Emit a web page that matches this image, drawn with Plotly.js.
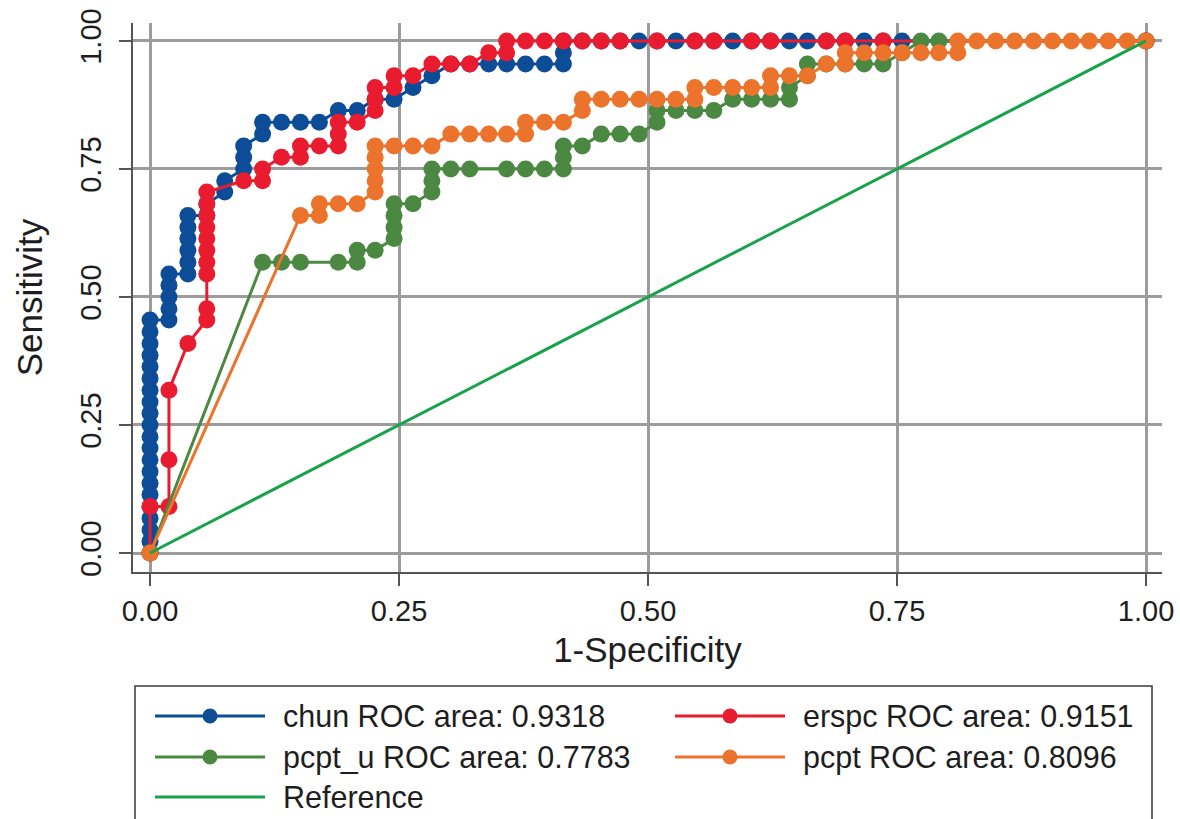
<!DOCTYPE html>
<html>
<head>
<meta charset="utf-8">
<script src="https://cdn.plot.ly/plotly-3.0.1.min.js"></script>
<style>html,body{margin:0;padding:0;background:#fff;}#chart{width:1180px;height:819px;}</style>
</head>
<body>
<div id="chart"></div>
<script>
// ---- data ----
const seriesNames = ["chun ROC area: 0.9318", "erspc ROC area: 0.9151", "pcpt_u ROC area: 0.7783", "pcpt ROC area: 0.8096", "Reference"];

const chunX = [0,0,0,0,0,0,0,0,0,0,0,0,0,0,0,0,0,0,0,0,0,
  .019,.019,.019,.019,.019,
  .038,.038,.038,.038,.038,.038,
  .057,.057, .075,.075, .094,.094,.094, .113,.113,
  .132,.151,.170, .189,.208, .226,.245, .264, .283,
  .302,.321,.340,.358,.377,.396,.415, .415,.415,
  .434,.453,.472,.491,.509,.528,.547,.566,.585,.604,.623,.642,.660,.679,.698,.717,.736,.755, 1];
const chunY = [0,.023,.045,.068,.091,.114,.136,.159,.182,.205,.227,.250,.273,.295,.318,.341,.364,.386,.409,.432,.455,
  .455,.477,.500,.523,.545,
  .545,.568,.591,.614,.636,.659,
  .659,.682, .705,.727, .750,.773,.795, .818,.841,
  .841,.841,.841, .864,.864, .886,.886, .909, .932,
  .955,.955,.955,.955,.955,.955,.955, .977,1,
  1,1,1,1,1,1,1,1,1,1,1,1,1,1,1,1,1,1, 1];

const erspcX = [0,0,.019,.019,.019,.038,
  .057,.057,.057,.057,.057,.057,.057,.057,.057,.057,
  .094,.113,.113,.132,.151,.151,.170,.189,.189,.189,.208,
  .226,.226,.226,.245,.245,.264,.283,.302,.321,.340,.358,.358,
  .377,.396,.415,.434,.453,.472,.509,.547,.566,.604,.623,.679,.698,.736, 1];
const erspcY = [0,.091,.091,.182,.318,.409,
  .455,.477,.545,.568,.591,.614,.636,.659,.682,.705,
  .727,.727,.750,.773,.773,.795,.795,.795,.818,.841,.841,
  .864,.886,.909,.909,.932,.932,.955,.955,.955,.977,.977,1,
  1,1,1,1,1,1,1,1,1,1,1,1,1,1, 1];

const pcptuX = [0,.113,.132,.151,.189,.208,.208,.226,.245,.245,.245,.245,.264,
  .283,.283,.283,.302,.321,.358,.377,.396,.415,.415,.415,.434,
  .453,.472,.491,.509,.509,.528,.547,.566,.585,.604,.623,.642,.642,
  .660,.660,.679,.698,.717,.736,.755,.774,.792, 1];
const pcptuY = [0,.568,.568,.568,.568,.568,.591,.591,.614,.636,.659,.682,.682,
  .705,.727,.750,.750,.750,.750,.750,.750,.750,.773,.795,.795,
  .818,.818,.818,.841,.864,.864,.864,.864,.886,.886,.886,.886,.909,
  .932,.955,.955,.955,.955,.955,.977,1,1, 1];

const pcptX = [0,.151,.170,.170,.189,.208,.226,.226,.226,.226,.226,.245,.264,.283,
  .302,.321,.340,.358,.377,.377,.396,.415,.434,.434,.453,.472,.491,.509,.528,.547,
  .547,.566,.585,.604,.623,.623,.642,.660,.679,.698,.698,.717,.736,.755,.774,.792,
  .811,.811,.830,.849,.868,.887,.906,.925,.943,.962,.981,1];
const pcptY = [0,.659,.659,.682,.682,.682,.705,.727,.750,.773,.795,.795,.795,.795,
  .818,.818,.818,.818,.818,.841,.841,.841,.864,.886,.886,.886,.886,.886,.886,.886,
  .909,.909,.909,.909,.909,.932,.932,.932,.955,.955,.977,.977,.977,.977,.977,.977,
  .977,1,1,1,1,1,1,1,1,1,1,1];

const refX = [0, 1];
const refY = [0, 1];

const tickVals = [0, 0.25, 0.5, 0.75, 1];
const tickText = ["0.00", "0.25", "0.50", "0.75", "1.00"];

const colors = ["#0d4c97", "#e81c2e", "#4b8841", "#eb732b", "#18a24c"];

// ---- traces ----
const FONT = "Arial, 'Liberation Sans', Helvetica, sans-serif";
function rocTrace(x, y, name, color) {
  return {type: "scatter", mode: "lines+markers", x: x, y: y, name: name,
    line: {color: color, width: 3}, marker: {color: color, size: 17}, showlegend: false,
    cliponaxis: false};
}
const traces = [
  rocTrace(chunX, chunY, seriesNames[0], colors[0]),
  rocTrace(erspcX, erspcY, seriesNames[1], colors[1]),
  rocTrace(pcptuX, pcptuY, seriesNames[2], colors[2]),
  rocTrace(pcptX, pcptY, seriesNames[3], colors[3]),
  {type: "scatter", mode: "lines", x: refX, y: refY, name: seriesNames[4],
    line: {color: colors[4], width: 3}, showlegend: false}
];

// ---- custom legend (layout decoration) ----
const L = 133, R = 18, T = 23, B = 247, W = 1180, H = 819;
const pw = W - L - R, ph = H - T - B;
const px2x = p => (p - L) / pw;
const py2y = p => (H - B - p) / ph;

const shapes = [{type: "rect", xref: "paper", yref: "paper",
  x0: px2x(135), x1: px2x(1152), y0: py2y(686), y1: py2y(830),
  line: {color: "#3a3a3a", width: 1.5}, fillcolor: "rgba(0,0,0,0)", layer: "above"}];
const annotations = [];
const slots = [[155, 716], [675, 716], [155, 757], [675, 757], [155, 797]];
seriesNames.forEach((nm, i) => {
  const [sx, sy] = slots[i];
  shapes.push({type: "line", xref: "paper", yref: "paper",
    x0: px2x(sx), x1: px2x(sx + 110), y0: py2y(sy), y1: py2y(sy),
    line: {color: colors[i], width: 3}});
  if (i < 4) {
    shapes.push({type: "circle", xref: "paper", yref: "paper",
      xsizemode: "pixel", ysizemode: "pixel", xanchor: px2x(sx + 55), yanchor: py2y(sy),
      x0: -7.5, x1: 7.5, y0: -7.5, y1: 7.5, fillcolor: colors[i], line: {width: 0}});
  }
  annotations.push({xref: "paper", yref: "paper", x: px2x(sx + 126), y: py2y(sy),
    xanchor: "left", yanchor: "middle", showarrow: false, text: nm,
    font: {family: FONT, size: 30.5, color: "#1e1e1e"}});
});

const layout = {
  width: W, height: H,
  margin: {l: L, r: R, t: T, b: B, pad: 0},
  paper_bgcolor: "#ffffff", plot_bgcolor: "#ffffff",
  font: {family: FONT, color: "#1e1e1e"},
  showlegend: false,
  xaxis: {range: [-0.0171, 1.016], tickvals: tickVals, ticktext: tickText,
    showgrid: true, gridcolor: "#9c9c9c", gridwidth: 3, zeroline: false,
    showline: true, linecolor: "#555555", linewidth: 2,
    ticks: "outside", ticklen: 12, tickwidth: 1.5, tickcolor: "#555555",
    tickfont: {family: FONT, size: 29, color: "#1e1e1e"},
    title: {text: "1-Specificity", font: {family: FONT, size: 35, color: "#1e1e1e"}, standoff: 12}},
  yaxis: {range: [-0.0371, 1.035], tickvals: tickVals, ticktext: tickText, tickangle: -90,
    showgrid: true, gridcolor: "#9c9c9c", gridwidth: 3, zeroline: false,
    showline: true, linecolor: "#555555", linewidth: 2,
    ticks: "outside", ticklen: 12, tickwidth: 1.5, tickcolor: "#555555",
    ticklabelstandoff: 6,
    tickfont: {family: FONT, size: 29, color: "#1e1e1e"},
    title: {text: "Sensitivity", font: {family: FONT, size: 35, color: "#1e1e1e"}, standoff: 22}},
  shapes: shapes,
  annotations: annotations
};

Plotly.newPlot("chart", traces, layout, {displayModeBar: false, staticPlot: true});
</script>
</body>
</html>
